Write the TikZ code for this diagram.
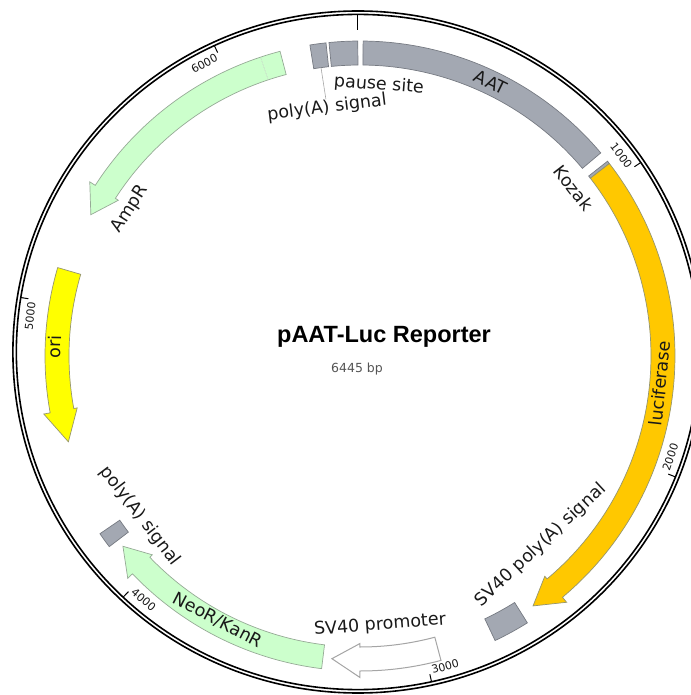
\documentclass[tikz,border=0pt]{standalone}
\usepackage{fontspec}
\setmainfont{DejaVu Sans}
\newfontfamily\titlefont{Liberation Sans}
\definecolor{featgray}{RGB}{163,168,178}
\definecolor{featgrayline}{RGB}{118,122,130}
\definecolor{ltgreen}{RGB}{204,255,204}
\definecolor{greenline}{RGB}{150,170,150}
\definecolor{lucyellow}{RGB}{255,200,0}
\definecolor{oriyellow}{RGB}{255,255,0}
\definecolor{yellowline}{RGB}{150,150,110}
\definecolor{promline}{RGB}{165,165,165}
\definecolor{labeltext}{RGB}{25,25,25}
\definecolor{sizetext}{RGB}{85,85,85}
\def\Ro{315}\def\Ri{291}\def\Rm{304}\def\Hi{287.5}\def\Ho{321.5}
% box feature: style, phi1, phi2 (clockwise angles from top)
\newcommand\featbox[3]{%
  \draw[#1] ({90-#2}:\Ro) arc[start angle={90-#2}, end angle={90-#3}, radius=\Ro]
    -- ({90-#3}:\Ri) arc[start angle={90-#3}, end angle={90-#2}, radius=\Ri] -- cycle;}
% clockwise arrow: style, phi tail, phi tip, head length
\newcommand\cwarrow[4]{%
  \draw[#1] ({90-#2}:\Ro) arc[start angle={90-#2}, end angle={90-#3+#4}, radius=\Ro]
    -- ({90-#3+#4}:\Ho) -- ({90-#3}:\Rm) -- ({90-#3+#4}:\Hi)
    -- ({90-#3+#4}:\Ri) arc[start angle={90-#3+#4}, end angle={90-#2}, radius=\Ri] -- cycle;}
% counterclockwise arrow: style, phi tail, phi tip, head length
\newcommand\ccwarrow[4]{%
  \draw[#1] ({90-#2}:\Ro) arc[start angle={90-#2}, end angle={90-#3-#4}, radius=\Ro]
    -- ({90-#3-#4}:\Ho) -- ({90-#3}:\Rm) -- ({90-#3-#4}:\Hi)
    -- ({90-#3-#4}:\Ri) arc[start angle={90-#3-#4}, end angle={90-#2}, radius=\Ri] -- cycle;}
\begin{document}
\begin{tikzpicture}[x=1.012pt, y=1pt,
  bb/.style={line width=1.6pt, draw=black},
  tickline/.style={line width=1pt, draw=black},
  gfeat/.style={fill=featgray, draw=featgrayline, line width=0.7pt},
  grfeat/.style={fill=ltgreen, draw=greenline, line width=0.7pt},
  lucfeat/.style={fill=lucyellow, draw=yellowline, line width=0.7pt},
  orifeat/.style={fill=oriyellow, draw=yellowline, line width=0.7pt},
  promfeat/.style={fill=white, draw=promline, line width=1pt},
  lbl/.style={font=\fontsize{17.5}{19}\selectfont, text=labeltext, inner sep=0pt},
  ticklbl/.style={font=\fontsize{11}{12}\selectfont, text=labeltext, inner sep=0pt},
  leader/.style={draw=gray!70, line width=0.6pt}]
\useasboundingbox (-353.75,-343) rectangle (329.05,352);
\clip (-353.75,-343) rectangle (329.05,352);
% backbone
\draw[bb] (0,0) circle[radius=341];
\draw[bb] (0,0) circle[radius=337.6];
% ticks
\draw[tickline] (90:337.6) -- (90:322);
\foreach \k in {1,...,6}{
  \pgfmathsetmacro\ph{\k*55.8573}
  \draw[tickline] ({90-\ph}:337.6) -- ({90-\ph}:330);
}
\node[ticklbl, rotate={-(55.857-2.9)}] (t1) at ({90-55.857+2.9}:326) {1000};
\node[ticklbl, rotate={180-(111.715-2.9)}] (t2) at ({90-111.715+2.9}:326) {2000};
\node[ticklbl, rotate={180-(167.572-2.9)}] (t3) at ({90-167.572+2.9}:326) {3000};
\node[ticklbl, rotate={180-(223.429-2.9)}] (t4) at ({90-223.429+2.9}:326) {4000};
\node[ticklbl, rotate={-(279.286-2.9)}] (t5) at ({90-279.286+2.9}:326) {5000};
\node[ticklbl, rotate={-(335.144-2.9)}] (t6) at ({90-335.144+2.9}:326) {6000};
% features (their ring is centred slightly lower than the backbone)
\begin{scope}[shift={(2pt,-4pt)}, x=1pt, y=1pt]
\featbox{gfeat}{350.85}{353.8}
\featbox{gfeat}{354.35}{359.6}
\featbox{gfeat}{0.57}{49.85}
\featbox{gfeat}{51.8}{52.35}
\cwarrow{lucfeat}{52.35}{145.3}{5.3}
\featbox{gfeat}{147.9}{154.6}
\cwarrow{promfeat}{165.1}{185.3}{5.3}
\cwarrow{grfeat}{187.0}{231.25}{5.0}
\featbox{gfeat}{232.75}{235.65}
\ccwarrow{orifeat}{286.3}{253.6}{6}
\ccwarrow{grfeat}{345.3}{297.7}{5.1}
\draw[draw=gray!45, line width=0.6pt, densely dotted] ({90-341.6}:\Ri) -- ({90-341.6}:\Ro);
\coordinate (boxA) at ({90-352.3}:\Ri);
\end{scope}
% labels
\node[lbl, rotate=-4.4] (pause) at ({90-4.44}:267.8) {pause site};
\node[lbl, rotate=7.15] (polyAtop) at ({90-352.85}:246) {poly(A) signal};
\draw[leader] (boxA) -- (polyAtop.north);
\node[lbl, rotate=-25.95] (aat) at ({90-25.95}:300) {AAT};
\node[lbl, rotate=-52.45] (kozak) at ({90-52.45}:269) {Kozak};
\node[lbl, rotate=84.0] (luc) at ({90-96}:300) {luciferase};
\node[lbl, rotate=43.1] (sv40pa) at ({90-136.9}:264.5) {SV40 poly(A) signal};
\node[lbl, rotate=4.55] (sv40p) at ({90-175.45}:273.9) {SV40 promoter};
\node[lbl, rotate=-27.3] (neo) at ({90-207.3}:302) {NeoR/KanR};
\node[lbl, rotate=-52.7] (polyAbl) at ({90-232.7}:270.7) {poly(A) signal};
\node[lbl, rotate=89.04] (ori) at ({90-270.96}:300) {ori};
\node[lbl, rotate=57.6] (ampr) at ({90-302.4}:266.8) {AmpR};
% centre
\node[font=\titlefont\bfseries\fontsize{23.5}{26}\selectfont, text=black, inner sep=0pt] (title) at (25.7,15) {pAAT-Luc Reporter};
\node[font=\fontsize{12.5}{14}\selectfont, text=sizetext, inner sep=0pt] (size) at (-1,-17) {6445 bp};
\end{tikzpicture}
\end{document}
